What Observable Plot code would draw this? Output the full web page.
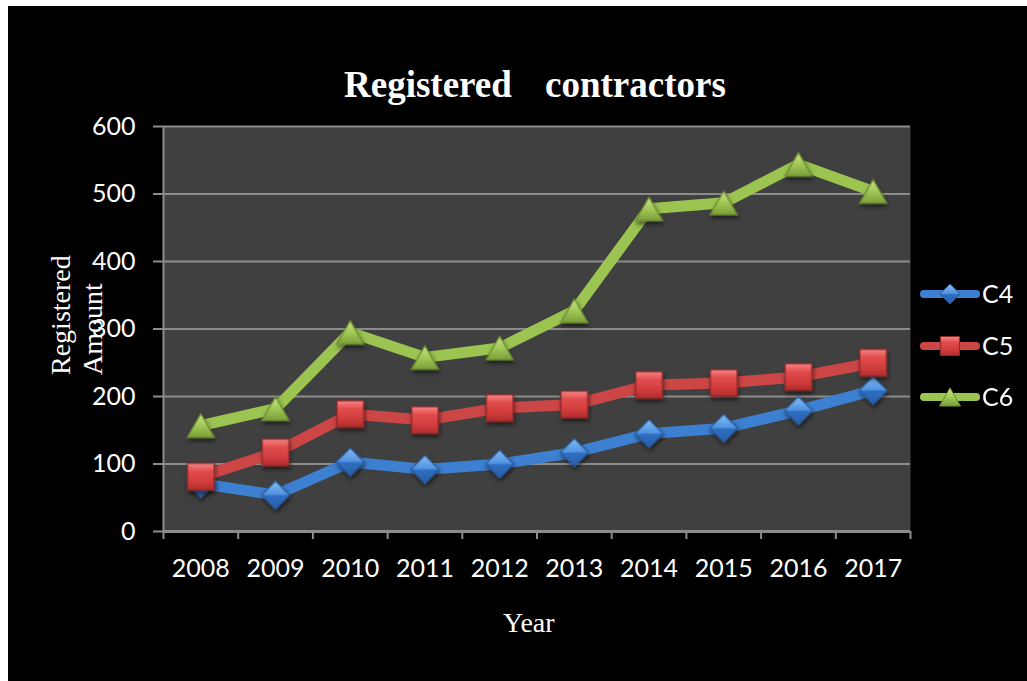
<!DOCTYPE html>
<html><head><meta charset="utf-8">
<script src="https://cdn.jsdelivr.net/npm/d3@7"></script>
<script src="https://cdn.jsdelivr.net/npm/@observablehq/plot@0.6"></script>
<style>
html,body{margin:0;padding:0;background:#fff;}
#chart{position:absolute;left:8px;top:6px;width:1019px;height:675px;background:#000;overflow:hidden;}
</style></head><body><div id="chart"></div>
<script>
// ---- data ----
const years = [2008, 2009, 2010, 2011, 2012, 2013, 2014, 2015, 2016, 2017];
const c4 = [71, 54, 103, 92, 100, 117, 145, 153, 179, 209];
const c5 = [81, 117, 174, 165, 183, 188, 217, 220, 229, 250];
const c6 = [157, 182, 295, 258, 272, 327, 478, 487, 544, 504];
const yTicks = [0, 100, 200, 300, 400, 500, 600];
const seriesNames = ["C4", "C5", "C6"];
const titleWords = ["Registered", "contractors"];
const xTitle = "Year";
const yTitleLines = ["Registered", "Amount"];

// ---- layout ----
const W = 1019, H = 675;
const boundaries = [2007.5, 2008.5, 2009.5, 2010.5, 2011.5, 2012.5, 2013.5, 2014.5, 2015.5, 2016.5, 2017.5];
const rows = s => years.map((year, i) => ({year, value: s[i]}));
const series = [
  {name: seriesNames[0], data: rows(c4), stroke: "#3d7fd1", symbol: "diamond2", r: 12.6, fill: "url(#gC4)", mstroke: "#2a5a98", dy: 0, d3sym: d3.symbolDiamond2, lsize: 255},
  {name: seriesNames[1], data: rows(c5), stroke: "#cd4646", symbol: "square2", r: 17, fill: "url(#gC5)", mstroke: "#8a2a2a", dy: 0, d3sym: d3.symbolSquare2, lsize: 460},
  {name: seriesNames[2], data: rows(c6), stroke: "#9bc451", symbol: "triangle2", r: 13, fill: "url(#gC6)", mstroke: "#6a8a30", dy: 4, d3sym: d3.symbolTriangle2, lsize: 316}
];
const grid = "#8c8c8c";

const marks = [
  Plot.frame({fill: "#404040", stroke: "none"}),
  Plot.gridY(yTicks, {stroke: grid, strokeOpacity: 1, strokeWidth: 2}),
  Plot.axisY(yTicks, {tickSize: 10, tickPadding: 18, stroke: grid, strokeWidth: 2, strokeOpacity: 1, fontSize: 25, label: null}),
  Plot.axisX(boundaries, {tickSize: 8, tickFormat: () => "", stroke: grid, strokeWidth: 2, strokeOpacity: 1, label: null}),
  Plot.axisX(years, {tickSize: 0, tickPadding: 28, tickFormat: d => String(d), fontSize: 25, label: null}),
  Plot.ruleY([0], {stroke: grid, strokeWidth: 3}),
  Plot.ruleX([2007.5], {stroke: grid, strokeWidth: 2})
];
for (const s of series) {
  marks.push(Plot.lineY(s.data, {x: "year", y: "value", stroke: s.stroke, strokeWidth: 11, strokeLinejoin: "round", strokeLinecap: "round"}));
  marks.push(Plot.dot(s.data, {x: "year", y: "value", symbol: s.symbol, r: s.r, fill: s.fill, stroke: s.mstroke, strokeWidth: 1.2, dy: s.dy}));
}

const chart = Plot.plot({
  width: W, height: H,
  marginLeft: 155, marginRight: 117, marginTop: 120, marginBottom: 150,
  x: {type: "linear", domain: [2007.5, 2017.5]},
  y: {domain: [0, 600]},
  style: {background: "transparent", color: "white", fontFamily: "Lato, sans-serif", fontSize: "25px", overflow: "visible"},
  marks
});
document.getElementById("chart").appendChild(chart);

// ---- decorations ----
const svg = d3.select(chart);
const defs = svg.insert("defs", ":first-child");
const grads = {
  gC4: [[0, "#86bcf5"], [0.48, "#4f93e0"], [0.52, "#2f6fc2"], [1, "#2a5ea6"]],
  gC5: [[0, "#f88686"], [0.3, "#e24c4c"], [0.7, "#d03c3c"], [1, "#b02c2c"]],
  gC6: [[0, "#cbe58a"], [0.5, "#a2c858"], [1, "#7c9e3a"]]
};
for (const [id, stops] of Object.entries(grads)) {
  const g = defs.append("linearGradient").attr("id", id).attr("x1", 0).attr("y1", 0).attr("x2", 0).attr("y2", 1);
  for (const [o, c] of stops) g.append("stop").attr("offset", o).attr("stop-color", c);
}
const f = defs.append("filter").attr("id", "shadow").attr("x", "-30%").attr("y", "-30%").attr("width", "160%").attr("height", "170%");
f.append("feDropShadow").attr("dx", 1).attr("dy", 3).attr("stdDeviation", 2).attr("flood-color", "#000").attr("flood-opacity", 0.55);
svg.selectAll("g[aria-label='dot']").attr("filter", "url(#shadow)");

const serif = "'Liberation Serif', 'Times New Roman', serif";
const txt = () => svg.append("text").attr("text-anchor", "start").attr("fill", "white");
// title
txt().attr("x", 336).attr("y", 91).attr("font-family", serif)
  .attr("font-weight", "bold").attr("font-size", 37).text(titleWords[0]);
txt().attr("x", 537).attr("y", 91).attr("font-family", serif)
  .attr("font-weight", "bold").attr("font-size", 37).text(titleWords[1]);
// y title
txt().attr("transform", "translate(62,369) rotate(-90)")
  .attr("font-family", serif).attr("font-size", 28).text(yTitleLines[0]);
txt().attr("transform", "translate(94,369) rotate(-90)")
  .attr("font-family", serif).attr("font-size", 28).text(yTitleLines[1]);
// x title
txt().attr("x", 495).attr("y", 626)
  .attr("font-family", serif).attr("font-size", 28).text(xTitle);

// legend
const legendY = [288, 340, 391];
series.forEach((s, i) => {
  const g = svg.append("g").attr("transform", `translate(0,${legendY[i]})`);
  g.append("line").attr("x1", 916).attr("x2", 968).attr("y1", 0).attr("y2", 0)
    .attr("stroke", s.stroke).attr("stroke-width", 8).attr("stroke-linecap", "round");
  g.append("path").attr("d", d3.symbol(s.d3sym, s.lsize)())
    .attr("transform", `translate(942,${s.dy ? 3 : 0})`)
    .attr("fill", s.fill).attr("stroke", s.mstroke).attr("stroke-width", 1);
  g.append("text").attr("text-anchor", "start").attr("x", 974).attr("y", 0).attr("dy", "0.36em").attr("fill", "white")
    .attr("font-family", "Lato, sans-serif").attr("font-size", 25).text(s.name);
});
</script></body></html>
